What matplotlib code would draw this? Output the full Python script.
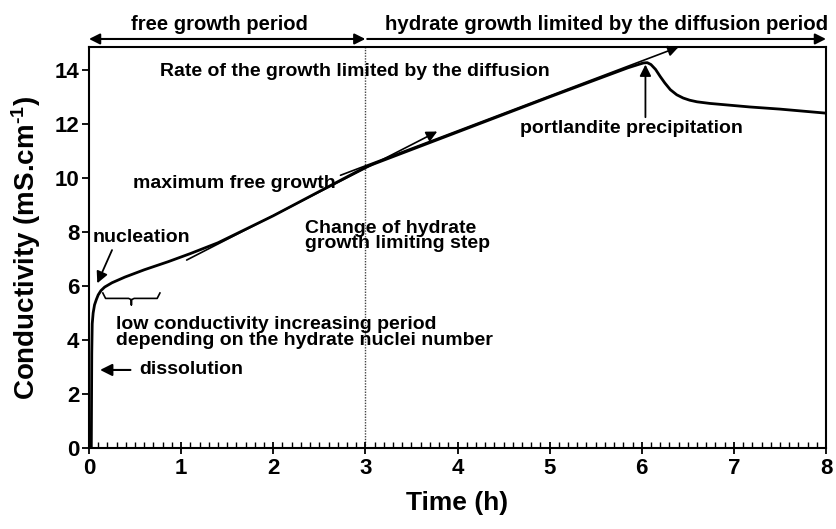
import matplotlib
matplotlib.use("Agg")
import matplotlib.pyplot as plt
from matplotlib.ticker import MultipleLocator

plt.rcParams['font.family'] = ['Liberation Sans', 'DejaVu Sans']
plt.rcParams['font.weight'] = 'bold'
plt.rcParams['mathtext.fontset'] = 'custom'
plt.rcParams['mathtext.rm'] = 'Liberation Sans:bold'
plt.rcParams['mathtext.bf'] = 'Liberation Sans:bold'
plt.rcParams['mathtext.default'] = 'rm'

# ---- data ----
time_h = [0.0, 0.025, 0.03, 0.035, 0.045, 0.06, 0.08, 0.1, 0.13, 0.17, 0.25, 0.39,
          0.6, 0.86, 1.1, 1.4, 1.7, 2.0, 2.5, 3.0, 3.5, 4.0, 4.5, 5.0, 5.55, 5.85,
          5.98, 6.02, 6.06, 6.1, 6.15, 6.2, 6.25, 6.31, 6.38, 6.45, 6.52, 6.6, 6.74,
          7.17, 7.5, 8.0]
conductivity = [0.0, 0.0, 3.5, 4.6, 5.0, 5.3, 5.5, 5.67, 5.83, 5.96, 6.12, 6.33,
                6.6, 6.9, 7.2, 7.6, 8.1, 8.6, 9.5, 10.4, 11.05, 11.7, 12.35, 13.0, 13.7, 14.08,
                14.22, 14.26, 14.27, 14.2, 14.02, 13.76, 13.52, 13.27, 13.08, 12.96, 12.88,
                12.82, 12.76, 12.63, 12.55, 12.4]

x_ticks = [0, 1, 2, 3, 4, 5, 6, 7, 8]
y_ticks = [0, 2, 4, 6, 8, 10, 12, 14]

# tangents (start, end)
free_growth_tangent = [(1.06, 6.96), (3.78, 11.72)]
diffusion_tangent = [(2.73, 10.1), (6.40, 14.85)]
change_time = 3.0

fig = plt.figure(figsize=(8.36, 5.29), dpi=100)
ax = fig.add_axes([89/836, 1-448/529, (826-89)/836, (448-47)/529])

ax.plot(time_h, conductivity, color='black', lw=2.0, zorder=3,
        solid_joinstyle='round')
ax.axvline(change_time, color='#444444', lw=1.0, ls=(0, (1, 1)), zorder=1)

ax.set_xlim(0, 8)
ax.set_ylim(0, 14.85)
ax.set_xticks(x_ticks)
ax.set_yticks(y_ticks)
ax.xaxis.set_minor_locator(MultipleLocator(0.1))
ax.tick_params(axis='x', which='major', direction='inout', length=9, width=1.3,
               labelsize=16, pad=3)
ax.tick_params(axis='x', which='minor', direction='in', length=4, width=1.0)
ax.tick_params(axis='y', which='major', direction='out', length=5, width=1.3,
               labelsize=16, pad=2)
for s in ax.spines.values():
    s.set_linewidth(1.5)

ax.set_xlabel('Time (h)', fontsize=19, fontweight='bold', labelpad=8)
ax.set_ylabel('Conductivity (mS.cm$^{\u2010 1}$)', fontsize=20, fontweight='bold', labelpad=8)

# tangent arrows
for (p0, p1) in (free_growth_tangent, diffusion_tangent):
    ax.annotate('', xy=p1, xytext=p0, annotation_clip=False,
                arrowprops=dict(arrowstyle='-|>', color='black', lw=1.2,
                                mutation_scale=16, shrinkA=0, shrinkB=0))

# header arrows
ax.annotate('', xy=(0, 1.02), xytext=(3.0, 1.02), xycoords=('data', 'axes fraction'),
            textcoords=('data', 'axes fraction'), annotation_clip=False,
            arrowprops=dict(arrowstyle='<|-|>', color='black', lw=1.5,
                            mutation_scale=16, shrinkA=0, shrinkB=0))
ax.annotate('', xy=(3.02, 1.02), xytext=(8.0, 1.02), xycoords=('data', 'axes fraction'),
            textcoords=('data', 'axes fraction'), annotation_clip=False,
            arrowprops=dict(arrowstyle='<|-', color='black', lw=1.5,
                            mutation_scale=16, shrinkA=0, shrinkB=0))
ax.text(1.42, 1.055, 'free growth period', transform=ax.get_xaxis_transform(),
        ha='center', va='center', fontsize=14.5, fontweight='bold')
ax.text(5.62, 1.055, 'hydrate growth limited by the diffusion period',
        transform=ax.get_xaxis_transform(), ha='center', va='center',
        fontsize=14.7, fontweight='bold')

# annotations
fs = 14
ax.text(0.77, 13.95, 'Rate of the growth limited by the diffusion', fontsize=fs,
        fontweight='bold', va='center', ha='left')
ax.text(0.48, 9.8, 'maximum free growth', fontsize=fs, fontweight='bold',
        va='center', ha='left')
ax.text(2.34, 7.85, 'Change of hydrate\ngrowth limiting step', fontsize=fs,
        fontweight='bold', va='center', ha='left', linespacing=0.85)
ax.text(0.04, 7.8, 'nucleation', fontsize=fs, fontweight='bold', va='center', ha='left')
ax.annotate('', xy=(0.09, 6.1), xytext=(0.25, 7.33),
            arrowprops=dict(arrowstyle='-|>', color='black', lw=1.3,
                            mutation_scale=17, shrinkA=0, shrinkB=0))
# brace
bx0, bx1, bmid, btop, bbot = 0.15, 0.77, 0.46, 5.74, 5.3
ax.plot([bx0, bx0 + 0.03, bmid - 0.03, bmid, bmid, bmid, bmid + 0.03, bx1 - 0.03, bx1],
        [btop, btop - 0.2, btop - 0.2, btop - 0.25, bbot, btop - 0.25, btop - 0.2, btop - 0.2, btop],
        color='black', lw=1.2)
ax.text(0.29, 4.28, 'low conductivity increasing period\ndepending on the hydrate nuclei number',
        fontsize=fs, fontweight='bold', va='center', ha='left', linespacing=0.95)
ax.annotate('', xy=(0.12, 2.89), xytext=(0.45, 2.89),
            arrowprops=dict(arrowstyle='-|>', color='black', lw=1.5,
                            mutation_scale=18, shrinkA=0, shrinkB=0))
ax.text(0.55, 2.89, 'dissolution', fontsize=fs, fontweight='bold', va='center', ha='left')
ax.text(4.68, 11.85, 'portlandite precipitation', fontsize=fs, fontweight='bold',
        va='center', ha='left')
ax.annotate('', xy=(6.04, 14.2), xytext=(6.04, 12.25),
            arrowprops=dict(arrowstyle='-|>', color='black', lw=1.3,
                            mutation_scale=17, shrinkA=0, shrinkB=0))

fig.savefig('out.png', dpi=100)
